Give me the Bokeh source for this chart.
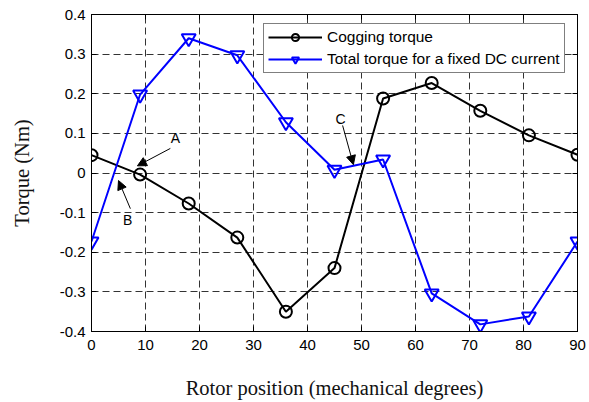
from bokeh.plotting import figure
from bokeh.models import (LinearAxis, FixedTicker, Legend, LegendItem, Arrow,
                          NormalHead, Label, Range1d)
from bokeh.embed import file_html
from bokeh.resources import INLINE

# ---- data ----
rotor_position = [0, 9, 18, 27, 36, 45, 54, 63, 72, 81, 90]
cogging_torque = [0.045, -0.004, -0.077, -0.163, -0.350, -0.240, 0.188, 0.227, 0.157, 0.095, 0.046]
total_torque = [-0.173, 0.198, 0.340, 0.297, 0.128, 0.008, 0.034, -0.304, -0.382, -0.362, -0.173]

x_ticks = [0, 10, 20, 30, 40, 50, 60, 70, 80, 90]
x_tick_labels = ["0", "10", "20", "30", "40", "50", "60", "70", "80", "90"]
y_ticks = [-0.4, -0.3, -0.2, -0.1, 0, 0.1, 0.2, 0.3, 0.4]
y_tick_labels = ["-0.4", "-0.3", "-0.2", "-0.1", "0", "0.1", "0.2", "0.3", "0.4"]

series_names = ["Cogging torque", "Total torque for a fixed DC current"]

TICK_FONT = "Liberation Sans"
LABEL_FONT = "Liberation Serif"

p = figure(width=589, height=402, output_backend="svg", toolbar_location=None,
           x_range=Range1d(0, 90), y_range=Range1d(-0.4, 0.4),
           min_border_left=91, min_border_right=12, min_border_top=14, min_border_bottom=71)
p.background_fill_color = "white"
p.border_fill_color = "white"
p.outline_line_color = "black"
p.outline_line_width = 1

# axes
for ax, ticks, labels in ((p.xaxis[0], x_ticks, x_tick_labels), (p.yaxis[0], y_ticks, y_tick_labels)):
    ax.ticker = FixedTicker(ticks=ticks)
    ax.major_label_overrides = {t: l for t, l in zip(ticks, labels)}
    ax.major_tick_in = 5
    ax.major_tick_out = 0
    ax.minor_tick_line_color = None
    ax.axis_line_color = "black"
    ax.major_tick_line_color = "black"
    ax.major_label_text_font = TICK_FONT
    ax.major_label_text_font_size = "15px"
    ax.major_label_text_color = "black"
    ax.axis_label_text_font = LABEL_FONT
    ax.axis_label_text_font_size = "20.5px"
    ax.axis_label_text_font_style = "normal"
    ax.axis_label_text_color = "#111111"

p.xaxis.axis_label = "Rotor position (mechanical degrees)"
p.yaxis.axis_label = "Torque (Nm)"
p.xaxis.major_label_standoff = 8
p.xaxis.axis_label_standoff = 24
p.yaxis.major_label_standoff = 6
p.yaxis.axis_label_standoff = 24

for loc, ticks in (("right", y_ticks), ("above", x_ticks)):
    a = LinearAxis(ticker=FixedTicker(ticks=ticks), major_tick_in=5, major_tick_out=0,
                   minor_tick_line_color=None, major_label_text_color=None,
                   major_label_text_font_size="10px",
                   major_label_standoff=0, axis_line_color="black",
                   major_tick_line_color="black")
    p.add_layout(a, loc)

# grid
for g in (p.xgrid[0], p.ygrid[0]):
    g.grid_line_color = "#333333"
    g.grid_line_dash = "7 4"
    g.grid_line_width = 1
    g.grid_line_alpha = 1.0
p.xgrid[0].ticker = FixedTicker(ticks=x_ticks)
p.ygrid[0].ticker = FixedTicker(ticks=y_ticks)

# series
l1 = p.line(rotor_position, cogging_torque, line_color="black", line_width=2)
s1 = p.scatter(rotor_position, cogging_torque, marker="circle", size=12,
               line_color="black", line_width=2, fill_color=None)
l2 = p.line(rotor_position, total_torque, line_color="blue", line_width=2)
s2 = p.scatter(rotor_position, total_torque, marker="inverted_triangle", size=14,
               line_color="blue", line_width=2, fill_color=None)

legend = Legend(items=[LegendItem(label=series_names[0], renderers=[l1, s1]),
                       LegendItem(label=series_names[1], renderers=[l2, s2])],
                location=(172, 258), padding=4, spacing=4, margin=0,
                label_height=18, glyph_height=18, glyph_width=54, label_standoff=5,
                label_text_font=TICK_FONT, label_text_font_size="15.5px",
                label_text_color="black",
                border_line_color="black", border_line_width=1,
                background_fill_color="white", background_fill_alpha=1.0)
p.add_layout(legend)

# annotations A, B, C
head = dict(size=9, fill_color="black", line_color="black")
p.add_layout(Arrow(x_start=14.6, y_start=0.062, x_end=8.5, y_end=0.018,
                   line_width=1, line_color="black", end=NormalHead(**head)))
p.add_layout(Arrow(x_start=7.2, y_start=-0.090, x_end=5.0, y_end=-0.019,
                   line_width=1, line_color="black", end=NormalHead(**head)))
p.add_layout(Arrow(x_start=46.5, y_start=0.120, x_end=48.5, y_end=0.021,
                   line_width=1, line_color="black", end=NormalHead(**head)))
for txt, x, y in (("A", 15.55, 0.089), ("B", 6.7, -0.118), ("C", 46.1, 0.137)):
    p.add_layout(Label(x=x, y=y, text=txt, text_font=TICK_FONT, text_font_size="14px",
                       text_align="center", text_baseline="middle", text_color="black"))

open("out.html", "w").write(file_html(p, INLINE))
